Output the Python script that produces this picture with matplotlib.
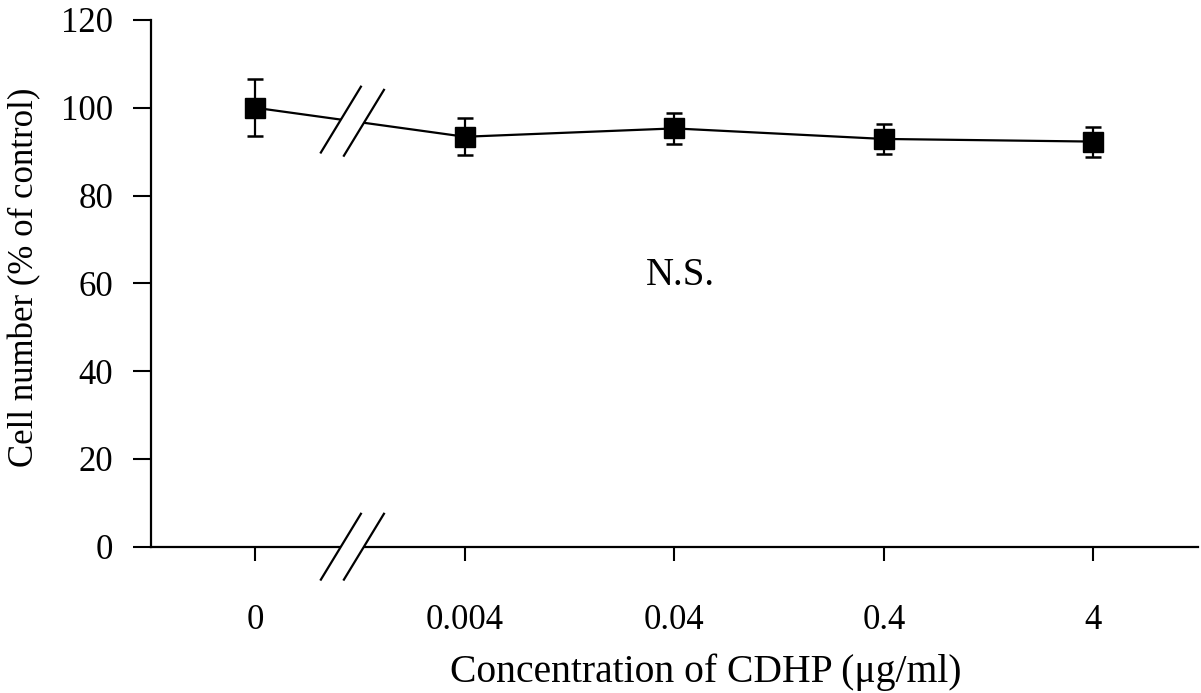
import matplotlib
matplotlib.use("Agg")
import matplotlib.pyplot as plt
import numpy as np
from matplotlib.patches import Polygon

plt.rcParams['font.family'] = ['Liberation Serif', 'DejaVu Serif']

categories = ["0", "0.004", "0.04", "0.4", "4"]
values = [100.0, 93.4, 95.3, 92.9, 92.3]
errors = [6.5, 4.2, 3.5, 3.5, 3.4]
yticks = [0, 20, 40, 60, 80, 100, 120]

fig = plt.figure(figsize=(12.01, 6.93), dpi=100)
W, H = 1201, 693
ax = fig.add_axes([150.7 / W, (H - 546.7) / H, (1198 - 150.7) / W, (546.7 - 20) / H])

x = np.arange(len(categories))
ax.plot(x, values, color='black', lw=1.6, zorder=2)
ax.errorbar(x, values, yerr=errors, fmt='s', color='black', ms=15,
            ecolor='black', elinewidth=1.6, capsize=6, capthick=1.8, zorder=4)

ax.set_xlim(-0.5, 4.5)
ax.set_ylim(0, 120)
ax.set_xticks(x)
ax.set_xticklabels(categories)
ax.set_yticks(yticks)
ax.tick_params(axis='both', labelsize=25, width=1.5, length=10, direction='out', color='black')
ax.tick_params(axis='x', pad=31)
ax.tick_params(axis='y', length=13, pad=14)
for s in ['top', 'right']:
    ax.spines[s].set_visible(False)
for s in ['left', 'bottom']:
    ax.spines[s].set_linewidth(1.6)

ax.set_xlabel("Concentration of CDHP (μg/ml)", fontsize=28.5)
ax.xaxis.label.set_va('baseline')
ax.xaxis.set_label_coords(0.530, -0.257)
ax.set_ylabel("Cell number (% of control)", fontsize=25)
ax.yaxis.label.set_va('center')
ax.yaxis.set_label_coords(-0.120, 0.512)

ax.text(2.03, 59.6, "N.S.", fontsize=28, ha='center', va='baseline')

# axis break marks
bx = [0.408, 0.518]
dx, dy = 0.0956, 7.5
def line_y(xx):
    return np.interp(xx, x[:2], values[:2])
for yc_func in [line_y, lambda xx: 0.0]:
    yc1, yc2 = yc_func(bx[0]), yc_func(bx[1])
    poly = Polygon([(bx[0] - dx, yc1 - dy), (bx[1] - dx, yc2 - dy),
                    (bx[1] + dx, yc2 + dy), (bx[0] + dx, yc1 + dy)],
                   closed=True, facecolor='white', edgecolor='none', zorder=5, clip_on=False)
    ax.add_patch(poly)
    for b, yc in zip(bx, [yc1, yc2]):
        ax.plot([b - dx, b + dx], [yc - dy, yc + dy], color='black', lw=1.6,
                zorder=6, clip_on=False)

fig.savefig("out.png", dpi=100)
